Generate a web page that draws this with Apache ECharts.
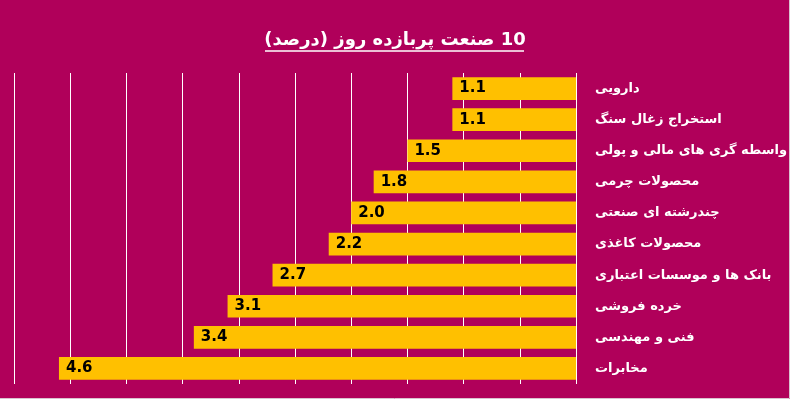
<!DOCTYPE html>
<html>
<head>
<meta charset="utf-8">
<script src="https://cdn.jsdelivr.net/npm/echarts@6/dist/echarts.min.js"></script>
<style>
  html, body { margin: 0; padding: 0; background: #B0005A; }
  #chart { width: 790px; height: 399px; }
</style>
</head>
<body>
<div id="chart" dir="rtl"></div>
<script>
// 10 صنعت پربازده روز - داده ها از بالا به پایین
const industries = [
  'دارویی',
  'استخراج زغال سنگ',
  'واسطه گری های مالی و پولی',
  'محصولات چرمی',
  'چندرشته ای صنعتی',
  'محصولات کاغذی',
  'بانک ها و موسسات اعتباری',
  'خرده فروشی',
  'فنی و مهندسی',
  'مخابرات'
];
const returns = [1.1, 1.1, 1.5, 1.8, 2.0, 2.2, 2.7, 3.1, 3.4, 4.6];
const titleText = '10 صنعت پربازده روز (درصد)';

const chart = echarts.init(document.getElementById('chart'));

const option = {
  backgroundColor: '#B0005A',
  animation: false,
  title: {
    text: titleText,
    left: 'center',
    top: 26,
    textStyle: {
      color: '#ffffff',
      fontFamily: 'DejaVu Sans',
      fontWeight: 'bold',
      fontSize: 18
    }
  },
  graphic: [
    // خط زیر عنوان
    {
      type: 'line',
      shape: { x1: 265, y1: 51, x2: 524, y2: 51 },
      style: { stroke: '#ffffff', lineWidth: 1.5 }
    },
    // حاشیه کمرنگ پایین و راست
    {
      type: 'polyline',
      shape: { points: [[0, 398.5], [789.5, 398.5], [789.5, 0]] },
      style: { stroke: '#d9c3cf', lineWidth: 1, fill: null }
    }
  ],
  grid: {
    left: 14,
    right: 214,
    top: 73,
    bottom: 15,
    outerBoundsMode: 'none'
  },
  xAxis: {
    type: 'value',
    inverse: true,
    min: 0,
    max: 5,
    interval: 0.5,
    axisLabel: { show: false },
    axisLine: { show: false },
    axisTick: { show: false },
    splitLine: {
      show: true,
      lineStyle: { color: '#ffffff', width: 1 }
    }
  },
  yAxis: {
    type: 'category',
    position: 'right',
    inverse: true,
    data: industries,
    axisLine: { show: false },
    axisTick: { show: false },
    axisLabel: {
      color: '#ffffff',
      fontFamily: 'DejaVu Sans',
      fontWeight: 'bold',
      fontSize: 13,
      margin: 19
    }
  },
  series: [
    {
      type: 'bar',
      data: returns,
      barCategoryGap: '27%',
      itemStyle: { color: '#FFC000' },
      label: {
        show: true,
        position: 'insideLeft',
        distance: 7,
        color: '#000000',
        fontFamily: 'DejaVu Sans',
        fontWeight: 'bold',
        fontSize: 15,
        formatter: function (p) {
          return p.value.toFixed(1);
        }
      }
    }
  ]
};

chart.setOption(option);

window.addEventListener('resize', () => {
  chart.resize();
});
</script>
</body>
</html>
